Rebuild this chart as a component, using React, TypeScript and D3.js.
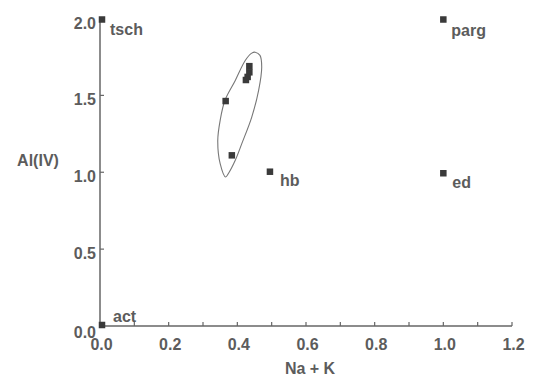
import React from "react";
import * as d3 from "d3";

// End-member compositions
const endMembers = ["tsch", "act", "parg", "ed", "hb"];
const endNaK = [0.0, 0.0, 1.0, 1.0, 0.495];
const endAlIV = [2.0, 0.0, 2.0, 1.0, 1.01];

// Analysed samples
const sampleNaK = [0.435, 0.435, 0.43, 0.425, 0.366, 0.384];
const sampleAlIV = [1.69, 1.65, 1.62, 1.6, 1.463, 1.11];

// Outline enclosing the samples (data units)
const outlineNaK = [0.452, 0.466, 0.471, 0.462, 0.442, 0.413, 0.394, 0.374, 0.366, 0.35, 0.343, 0.35, 0.364, 0.394, 0.423, 0.442];
const outlineAlIV = [1.781, 1.76, 1.684, 1.532, 1.359, 1.186, 1.078, 0.992, 0.969, 1.056, 1.208, 1.338, 1.468, 1.597, 1.727, 1.775];

// Axis ticks
const xTicks = [0, 0.1, 0.2, 0.3, 0.4, 0.5, 0.6, 0.7, 0.8, 0.9, 1.0, 1.1, 1.2];
const xTickLabels = ["0.0", "0.2", "0.4", "0.6", "0.8", "1.0", "1.2"];
const yTicks = [0, 0.5, 1.0, 1.5, 2.0];
const yTickLabels = ["0.0", "0.5", "1.0", "1.5", "2.0"];

const xTitle = "Na + K";
const yTitle = "Al(IV)";

// label offsets (layout)
const labelDx = [10, 13, 8, 9, 10];
const labelDy = [16, -4, 17, 16, 15];

export default function App() {
  const W = 533;
  const H = 376;
  const x = d3.scaleLinear().domain([0, 1.2]).range([100, 512]);
  const y = d3.scaleLinear().domain([0, 2]).range([326, 18.5]);
  const textColor = "#5c5c5c";
  const font = "'Liberation Sans', Arial, sans-serif";

  const outlinePts: [number, number][] = outlineNaK.map((v, i) => [x(v), y(outlineAlIV[i])]);
  const outlinePath = d3.line().curve(d3.curveCatmullRomClosed.alpha(0.5))(outlinePts) || "";

  const ms = 6.5;

  return (
    <svg
      width={W}
      height={H}
      style={{ position: "absolute", left: 0, top: 0, background: "#fff" }}
      fontFamily={font}
      fontWeight="bold"
    >
      <rect width={W} height={H} fill="#fff" />
      {/* axes */}
      <line x1={x(0)} x2={x(1.2)} y1={y(0)} y2={y(0)} stroke="#666" strokeWidth={1.5} />
      <line x1={x(0)} x2={x(0)} y1={y(0)} y2={y(2)} stroke="#666" strokeWidth={1.5} />
      {xTicks.map((t) => (
        <line key={"xt" + t} x1={x(t)} x2={x(t)} y1={y(0)} y2={y(0) - 4} stroke="#666" strokeWidth={1.2} />
      ))}
      {yTicks.map((t) => (
        <line key={"yt" + t} x1={x(0)} x2={x(0) + 4} y1={y(t)} y2={y(t)} stroke="#666" strokeWidth={1.2} />
      ))}
      {xTickLabels.map((l) => (
        <text key={"xl" + l} x={x(+l) + 1.5} y={y(0) + 24} textAnchor="middle" fontSize={16} fill={textColor}>
          {l}
        </text>
      ))}
      {yTickLabels.map((l) => (
        <text key={"yl" + l} x={x(0) - 4} y={y(+l) + (l === "0.0" ? 12 : 10)} textAnchor="end" fontSize={16} fill={textColor}>
          {l}
        </text>
      ))}
      <text x={38} y={166} textAnchor="middle" fontSize={16} fill={textColor}>
        {yTitle}
      </text>
      <text x={310} y={374} textAnchor="middle" fontSize={16} fill={textColor}>
        {xTitle}
      </text>

      {/* outline */}
      <path d={outlinePath} fill="none" stroke="#777" strokeWidth={1.1} />

      {/* samples */}
      {sampleNaK.map((v, i) => (
        <rect key={"s" + i} x={x(v) - ms / 2} y={y(sampleAlIV[i]) - ms / 2} width={ms} height={ms} fill="#3a3a3a" />
      ))}

      {/* end members */}
      {endMembers.map((name, i) => (
        <g key={name}>
          <rect x={x(endNaK[i]) - ms / 2 + (i < 2 ? 2 : 0)} y={y(endAlIV[i]) - ms / 2 + (i === 1 ? -1 : 1)} width={ms} height={ms} fill="#3a3a3a" />
          <text x={x(endNaK[i]) + labelDx[i]} y={y(endAlIV[i]) + labelDy[i]} fontSize={16} fill={textColor}>
            {name}
          </text>
        </g>
      ))}
    </svg>
  );
}
